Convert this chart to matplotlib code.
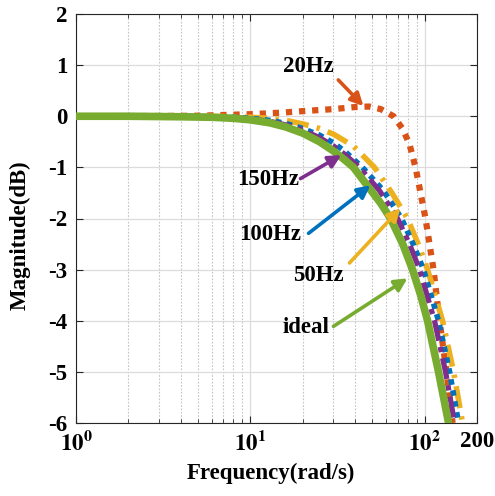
import matplotlib
matplotlib.use("Agg")
import matplotlib.pyplot as plt
from matplotlib.ticker import FixedLocator, NullFormatter

plt.rcParams['font.family'] = ['Liberation Serif', 'DejaVu Serif']
plt.rcParams['font.weight'] = 'bold'
plt.rcParams['mathtext.fontset'] = 'stix'
plt.rcParams['axes.unicode_minus'] = False

# ---- data ----
w_ideal = [1, 2, 4, 6, 8, 10, 13, 16, 20, 25, 30, 35, 39.1, 48, 56, 63.8, 75, 85.3, 95, 104.1, 120.3, 137.4]
db_ideal = [0, 0, -0.01, -0.02, -0.04, -0.07, -0.13, -0.21, -0.33, -0.5, -0.68, -0.86, -1.0, -1.4, -1.7, -2.0, -2.5, -3.0, -3.5, -4.0, -5.0, -6.0]

w_150 = [1, 2, 4, 6, 8, 10, 13, 16, 20, 25, 30, 35, 42.3, 55, 70.0, 82, 93.6, 114.1, 132.0, 148.7]
db_150 = [0, 0, -0.01, -0.02, -0.03, -0.05, -0.1, -0.17, -0.27, -0.42, -0.58, -0.75, -1.0, -1.45, -2.0, -2.5, -3.0, -4.0, -5.0, -6.0]

w_100 = [1, 2, 4, 6, 8, 10, 13, 16, 20, 25, 30, 35, 44.0, 58, 73.8, 86, 98.7, 120.3, 139.3, 156.8]
db_100 = [0, 0, 0, -0.01, -0.02, -0.04, -0.08, -0.14, -0.24, -0.37, -0.52, -0.69, -1.0, -1.45, -2.0, -2.5, -3.0, -4.0, -5.0, -6.0]

w_50 = [1, 2, 4, 6, 8, 10, 13, 16, 20, 25, 30, 39, 51.6, 65, 79.8, 92, 104.1, 126.9, 146.8, 165.3]
db_50 = [0, 0, 0, 0, -0.01, -0.02, -0.04, -0.08, -0.15, -0.24, -0.35, -0.58, -1.0, -1.5, -2.0, -2.5, -3.0, -4.0, -5.0, -6.0]

w_20 = [1, 3, 5, 10, 15, 20, 30, 40, 48, 56, 66.4, 75, 82, 88.8, 101.3, 112.6, 121.9, 133.7, 144.9]
db_20 = [0, 0.005, 0.01, 0.04, 0.07, 0.1, 0.14, 0.18, 0.19, 0.14, 0.0, -0.25, -0.55, -1.0, -2.0, -3.0, -4.0, -5.0, -6.0]

x_ticks = [1, 10, 100, 200]
x_ticklabels = [r'$\mathbf{10^{0}}$', r'$\mathbf{10^{1}}$', r'$\mathbf{10^{2}}$', '200']
y_ticks = [-6, -5, -4, -3, -2, -1, 0, 1, 2]

c_green = '#77AC30'
c_purple = '#7E2F8E'
c_blue = '#0072BD'
c_yellow = '#EDB120'
c_orange = '#D95319'

fig = plt.figure(figsize=(4.95, 4.96), dpi=100)
ax = fig.add_axes([76/495, 1-423/496, (477-76)/495, (423-14)/496])

ax.set_xscale('log')
ax.set_xlim(1, 200)
ax.set_ylim(-6, 2)

ax.plot(w_20, db_20, color=c_orange, lw=4.5, linestyle=(0, (1, 1.1)), dash_capstyle='butt', zorder=3)
ax.plot(w_50, db_50, color=c_yellow, lw=4.0, linestyle=(0, (4, 1.5, 0.6, 1.5)), dash_capstyle='butt', zorder=4)
ax.plot(w_100, db_100, color=c_blue, lw=4.0, linestyle=(0, (1, 1)), dash_capstyle='butt', zorder=5)
ax.plot(w_150, db_150, color=c_purple, lw=3.8, linestyle=(0, (4, 1.2, 1, 1.2)), dash_capstyle='butt', zorder=6)
ax.plot(w_ideal, db_ideal, color=c_green, lw=5.5, linestyle='-', zorder=7)

ax.xaxis.set_major_locator(FixedLocator(x_ticks))
ax.set_xticklabels(x_ticklabels)
minor = [m * d for d in (1, 10) for m in range(2, 10)]
ax.xaxis.set_minor_locator(FixedLocator(minor))
ax.xaxis.set_minor_formatter(NullFormatter())
ax.set_yticks(y_ticks)
ax.set_yticklabels([str(v) for v in y_ticks])

ax.grid(True, which='major', color='#dcdcdc', lw=0.9, linestyle='-')
ax.grid(True, which='minor', axis='x', color='#c4c4c4', lw=0.8, linestyle=(0, (1.5, 1.5)))
ax.set_axisbelow(True)

ax.tick_params(which='both', direction='in', top=True, right=True, labelsize=16.5, colors='#262626')
ax.tick_params(which='major', length=5, width=0.8, pad=6)
ax.tick_params(which='minor', length=3, width=0.6)
ax.tick_params(axis='both', which='major', labelcolor='black')
for lab in ax.get_xticklabels() + ax.get_yticklabels():
    lab.set_fontweight('bold')
for sp in ax.spines.values():
    sp.set_color('#262626')
    sp.set_linewidth(0.8)

ax.set_xlabel('Frequency(rad/s)', fontsize=16.5, fontweight='bold')
ax.set_ylabel('Magnitude(dB)', fontsize=16.5, fontweight='bold')
ax.xaxis.set_label_coords(0.486, -0.098)
ax.yaxis.set_label_coords(-0.112, 0.46)

# annotations
labels = ['20Hz', '150Hz', '100Hz', '50Hz', 'ideal']
label_pos = [(21.6, 0.98), (12.7, -1.23), (13.0, -2.31), (24.6, -3.11), (21.0, -4.13)]
arrow_tail = [(32.0, 0.71), (19.4, -1.22), (21.6, -2.29), (37.1, -2.87), (30.0, -4.11)]
arrow_head = [(44.6, 0.2), (33.3, -0.76), (48.9, -1.35), (72.8, -1.80), (79.8, -3.17)]
arrow_colors = [c_orange, c_purple, c_blue, c_yellow, c_green]

for lab, pos, tail, head, col in zip(labels, label_pos, arrow_tail, arrow_head, arrow_colors):
    ax.text(pos[0], pos[1], lab, fontsize=16.5, fontweight='bold', ha='center', va='center', zorder=10)
    ax.annotate('', xy=head, xytext=tail,
                arrowprops=dict(arrowstyle='-|>,head_length=0.75,head_width=0.38',
                                color=col, lw=2.6, shrinkA=0, shrinkB=0),
                zorder=11)

fig.savefig('out.png', dpi=100)
